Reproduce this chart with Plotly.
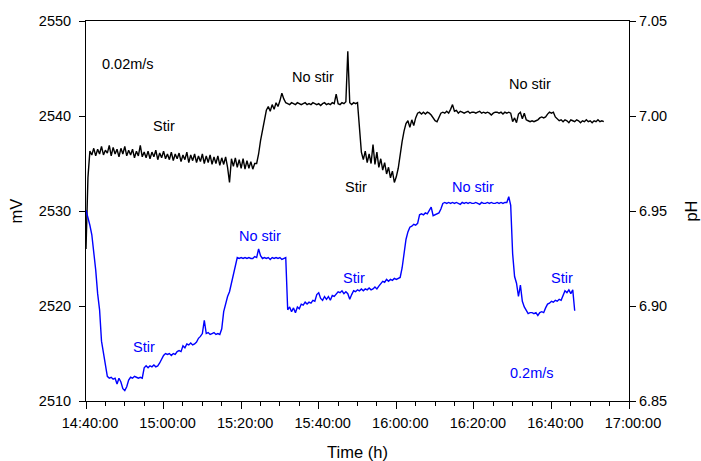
import plotly.graph_objects as go
import pandas as pd

# ---------------- data ----------------
# sampling step (minutes) within each 5-minute block
STEP_MIN = 0.5
BASE_TIME = "2024-01-01 14:40:00"

# Black trace, 0.02 m/s, mV (left axis). (start minute after 14:40, values every 0.5 min)
mv_rows = [
    (0,   [2526.0, 2533.5, 2536.3, 2535.9, 2536.6, 2535.8, 2536.5, 2536.0, 2536.8, 2535.9]),
    (5,   [2536.4, 2536.1, 2536.9, 2535.8, 2536.7, 2536.0, 2536.5, 2535.7, 2536.6, 2536.0]),
    (10,  [2536.8, 2535.8, 2536.4, 2535.9, 2536.5, 2535.6, 2536.3, 2535.8, 2536.9, 2535.7]),
    (15,  [2536.2, 2535.6, 2536.3, 2535.5, 2536.2, 2535.7, 2536.4, 2535.4, 2536.1, 2535.6]),
    (20,  [2536.3, 2535.5, 2536.0, 2535.4, 2536.2, 2535.3, 2536.0, 2535.5, 2536.1, 2535.2]),
    (25,  [2535.9, 2535.4, 2536.2, 2535.1, 2535.9, 2535.3, 2536.0, 2535.1, 2535.8, 2535.2]),
    (30,  [2536.0, 2535.0, 2535.8, 2535.1, 2535.9, 2534.9, 2535.7, 2535.0, 2535.8, 2534.8]),
    (35,  [2535.6, 2534.9, 2535.7, 2534.6, 2533.0, 2535.5, 2534.7, 2535.6, 2534.6, 2535.4]),
    (40,  [2534.5, 2535.5, 2534.4, 2535.3, 2534.5, 2535.2, 2534.4, 2535.0, 2535.0, 2536.0]),
    (45,  [2537.4, 2538.6, 2539.8, 2540.6, 2541.0, 2540.5, 2541.2, 2540.7, 2541.4, 2541.0]),
    (50,  [2541.6, 2542.4, 2541.8, 2541.4, 2541.3, 2541.2, 2541.4, 2541.3, 2541.2, 2541.4]),
    (55,  [2541.3, 2541.2, 2541.3, 2541.4, 2541.2, 2541.3, 2541.2, 2541.4, 2541.3, 2541.2]),
    (60,  [2541.3, 2541.1, 2541.3, 2541.4, 2541.2, 2541.3, 2541.2, 2541.4, 2541.3, 2542.3]),
    (65,  [2541.3, 2541.2, 2541.4, 2541.3, 2541.5, 2546.8, 2541.4, 2541.2, 2541.4, 2541.3]),
    (70,  [2541.4, 2538.5, 2536.2, 2535.4, 2536.3, 2535.1, 2536.0, 2535.0, 2537.0, 2534.9]),
    (75,  [2536.2, 2534.6, 2535.5, 2534.3, 2535.1, 2533.9, 2534.6, 2533.5, 2534.2, 2533.0]),
    (80,  [2533.6, 2534.5, 2536.0, 2537.3, 2538.4, 2539.2, 2539.5, 2538.8, 2539.6, 2539.0]),
    (85,  [2539.8, 2540.3, 2540.4, 2540.2, 2540.4, 2540.2, 2540.4, 2540.3, 2540.1, 2539.8]),
    (90,  [2539.5, 2539.4, 2539.9, 2540.3, 2540.4, 2540.3, 2540.5, 2540.3, 2540.7, 2541.2]),
    (95,  [2540.5, 2540.6, 2540.3, 2540.5, 2540.4, 2540.3, 2540.4, 2540.5, 2540.3, 2540.4]),
    (100, [2540.4, 2540.3, 2540.4, 2540.5, 2540.3, 2540.4, 2540.3, 2540.4, 2540.3, 2540.1]),
    (105, [2540.3, 2540.4, 2540.4, 2540.3, 2540.4, 2540.2, 2540.4, 2540.3, 2540.4, 2540.3]),
    (110, [2539.4, 2539.8, 2539.3, 2540.2, 2540.4, 2539.7, 2540.3, 2539.6, 2539.5, 2539.4]),
    (115, [2539.5, 2539.4, 2539.5, 2539.6, 2539.8, 2539.9, 2539.8, 2539.9, 2540.2, 2540.4]),
    (120, [2540.3, 2540.4, 2539.9, 2539.7, 2539.5, 2539.6, 2539.4, 2539.6, 2539.5, 2539.3]),
    (125, [2539.6, 2539.5, 2539.4, 2539.6, 2539.5, 2539.3, 2539.5, 2539.4, 2539.6, 2539.4]),
    (130, [2539.5, 2539.3, 2539.5, 2539.4, 2539.6, 2539.4, 2539.5, 2539.4]),
]

# Blue trace, 0.2 m/s, pH (right axis)
ph_rows = [
    (0,   [6.9505, 6.9470, 6.9425, 6.9375, 6.9290, 6.9190, 6.9065, 6.8980, 6.8815, 6.8760]),
    (5,   [6.8700, 6.8630, 6.8620, 6.8625, 6.8615, 6.8620, 6.8590, 6.8620, 6.8600, 6.8565]),
    (10,  [6.8555, 6.8575, 6.8610, 6.8625, 6.8620, 6.8630, 6.8625, 6.8620, 6.8625, 6.8620]),
    (15,  [6.8675, 6.8685, 6.8675, 6.8685, 6.8680, 6.8690, 6.8680, 6.8685, 6.8700, 6.8725]),
    (20,  [6.8740, 6.8750, 6.8745, 6.8750, 6.8740, 6.8750, 6.8745, 6.8760, 6.8765, 6.8760]),
    (25,  [6.8790, 6.8780, 6.8800, 6.8795, 6.8805, 6.8795, 6.8800, 6.8810, 6.8830, 6.8840]),
    (30,  [6.8855, 6.8925, 6.8855, 6.8860, 6.8850, 6.8855, 6.8860, 6.8850, 6.8855, 6.8850]),
    (35,  [6.8880, 6.8970, 6.9015, 6.9050, 6.9075, 6.9120, 6.9170, 6.9225, 6.9255, 6.9250]),
    (40,  [6.9255, 6.9250, 6.9255, 6.9250, 6.9255, 6.9250, 6.9250, 6.9260, 6.9255, 6.9300]),
    (45,  [6.9265, 6.9250, 6.9255, 6.9250, 6.9255, 6.9245, 6.9255, 6.9250, 6.9255, 6.9250]),
    (50,  [6.9255, 6.9245, 6.9250, 6.9255, 6.8980, 6.8995, 6.8970, 6.8990, 6.8965, 6.8995]),
    (55,  [6.8985, 6.9010, 6.9005, 6.9020, 6.9010, 6.9020, 6.9015, 6.9030, 6.9025, 6.9060]),
    (60,  [6.9070, 6.9040, 6.9030, 6.9050, 6.9035, 6.9050, 6.9030, 6.9055, 6.9050, 6.9065]),
    (65,  [6.9075, 6.9070, 6.9080, 6.9065, 6.9075, 6.9065, 6.9035, 6.9060, 6.9080, 6.9075]),
    (70,  [6.9085, 6.9080, 6.9090, 6.9080, 6.9090, 6.9085, 6.9095, 6.9085, 6.9090, 6.9100]),
    (75,  [6.9090, 6.9105, 6.9115, 6.9130, 6.9125, 6.9140, 6.9130, 6.9140, 6.9135, 6.9145]),
    (80,  [6.9140, 6.9145, 6.9150, 6.9200, 6.9290, 6.9350, 6.9390, 6.9415, 6.9420, 6.9430]),
    (85,  [6.9425, 6.9435, 6.9480, 6.9485, 6.9480, 6.9490, 6.9485, 6.9505, 6.9520, 6.9475]),
    (90,  [6.9480, 6.9485, 6.9490, 6.9510, 6.9540, 6.9545, 6.9540, 6.9545, 6.9540, 6.9545]),
    (95,  [6.9540, 6.9545, 6.9540, 6.9535, 6.9545, 6.9540, 6.9545, 6.9540, 6.9545, 6.9540]),
    (100, [6.9540, 6.9545, 6.9540, 6.9535, 6.9545, 6.9540, 6.9540, 6.9545, 6.9540, 6.9545]),
    (105, [6.9540, 6.9540, 6.9545, 6.9540, 6.9545, 6.9540, 6.9545, 6.9545, 6.9575, 6.9530]),
    (110, [6.9275, 6.9155, 6.9120, 6.9050, 6.9110, 6.9025, 6.8995, 6.8980, 6.8960, 6.8965]),
    (115, [6.8965, 6.8960, 6.8965, 6.8950, 6.8965, 6.8970, 6.8965, 6.8990, 6.9010, 6.9015]),
    (120, [6.9025, 6.9020, 6.9030, 6.9025, 6.9035, 6.9030, 6.9060, 6.9080, 6.9070, 6.9085]),
    (125, [6.9065, 6.9085, 6.8975]),
]

# text labels: (text, minutes after 14:40, mV level, colour, anchor)
labels = [
    ("0.02m/s", 3.6, 2545.5, "black", "left"),
    ("Stir", 20.1, 2539.0, "black", "center"),
    ("No stir", 58.4, 2544.1, "black", "center"),
    ("Stir", 69.7, 2532.5, "black", "center"),
    ("No stir", 114.6, 2543.4, "black", "center"),
    ("Stir", 14.9, 2515.7, "#0000FF", "center"),
    ("No stir", 44.9, 2527.4, "#0000FF", "center"),
    ("Stir", 69.0, 2523.0, "#0000FF", "center"),
    ("No stir", 99.7, 2532.5, "#0000FF", "center"),
    ("Stir", 122.7, 2522.9, "#0000FF", "center"),
    ("0.2m/s", 115.0, 2512.9, "#0000FF", "center"),
]

MV_RANGE = [2510, 2550]
PH_RANGE = [6.85, 7.05]
X_START_MIN, X_END_MIN = 0, 140

# ---------------- build ----------------
base = pd.Timestamp(BASE_TIME)


def tstr(m):
    return (base + pd.Timedelta(minutes=m)).strftime("%Y-%m-%d %H:%M:%S")


def expand(rows):
    xs, ys = [], []
    for start, vals in rows:
        for k, v in enumerate(vals):
            xs.append(tstr(start + STEP_MIN * k))
            ys.append(v)
    return xs, ys


mx, my = expand(mv_rows)
px_, py_ = expand(ph_rows)

FONT = "Arial, Liberation Sans, sans-serif"

fig = go.Figure()
fig.add_trace(go.Scatter(x=mx, y=my, mode="lines", line=dict(color="black", width=1.4),
                         yaxis="y", showlegend=False))
fig.add_trace(go.Scatter(x=px_, y=py_, mode="lines", line=dict(color="#0000FF", width=1.4),
                         yaxis="y2", showlegend=False))

for text, m, v, col, anc in labels:
    fig.add_annotation(x=tstr(m), y=v, xref="x", yref="y", text=text, showarrow=False,
                       xanchor=anc, yanchor="middle",
                       font=dict(family=FONT, size=14.5, color=col))

fig.update_layout(
    width=701, height=461,
    margin=dict(l=86, r=72, t=21, b=60, autoexpand=False),
    paper_bgcolor="white", plot_bgcolor="white",
    font=dict(family=FONT, size=14.5, color="black"),
    xaxis=dict(
        type="date", range=[tstr(X_START_MIN), tstr(X_END_MIN)],
        tick0=tstr(0), dtick=20 * 60 * 1000, tickformat="%H:%M:%S",
        ticks="outside", ticklen=7, tickcolor="black", ticklabelstandoff=2,
        ticklabelshift=4,
        minor=dict(dtick=5 * 60 * 1000, tick0=tstr(0), ticks="outside", ticklen=4, tickcolor="black"),
        showline=True, linecolor="black", linewidth=1, mirror=True,
        showgrid=False, zeroline=False,
        title=dict(text="Time (h)", font=dict(size=16.5), standoff=17),
        tickfont=dict(size=14.5),
    ),
    yaxis=dict(
        range=MV_RANGE, dtick=10, ticks="outside", ticklen=6, tickcolor="black",
        ticklabelstandoff=5,
        showline=True, linecolor="black", linewidth=1,
        showgrid=False, zeroline=False,
        title=dict(text="mV", font=dict(size=16.5), standoff=12),
        tickfont=dict(size=14.5),
    ),
    yaxis2=dict(
        range=PH_RANGE, dtick=0.05, tickformat=".2f", overlaying="y", side="right",
        ticks="outside", ticklen=6, tickcolor="black",
        showline=True, linecolor="black", linewidth=1,
        showgrid=False, zeroline=False,
        title=dict(text="pH", font=dict(size=16.5), standoff=19),
        tickfont=dict(size=14.5),
    ),
)

fig.write_html("out.html")
